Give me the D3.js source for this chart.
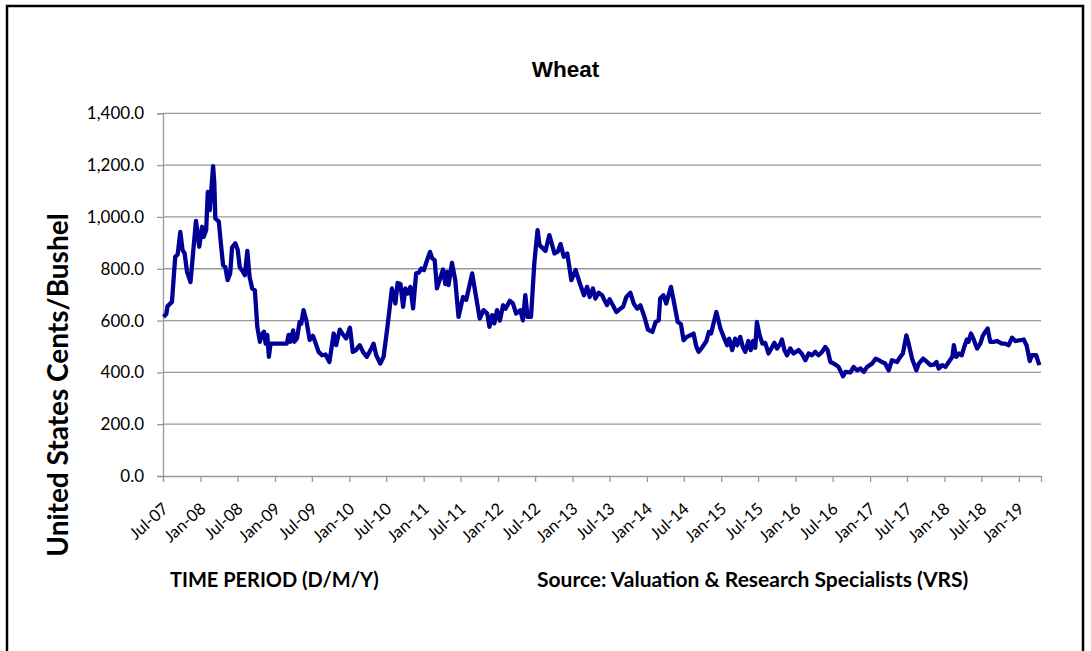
<!DOCTYPE html>
<html>
<head>
<meta charset="utf-8">
<script src="https://cdn.jsdelivr.net/npm/d3@7"></script>
<style>
  body { margin: 0; background: #fff; }
  svg text { font-family: Lato, "Open Sans", sans-serif; fill: #000; }
</style>
</head>
<body>
<div id="chart"></div>
<script>
// weekly wheat price, cents per bushel
const dates = [
  "2007-07-04","2007-07-17","2007-07-23","2007-08-14","2007-08-30","2007-09-11","2007-09-24","2007-10-05",
  "2007-10-15","2007-10-27","2007-11-13","2007-11-24","2007-12-10","2007-12-26","2008-01-09","2008-01-17",
  "2008-01-29","2008-02-06","2008-02-16","2008-02-22","2008-03-03","2008-03-09","2008-03-14","2008-03-31",
  "2008-04-11","2008-04-21","2008-05-02","2008-05-13","2008-05-26","2008-06-04","2008-06-20","2008-07-02",
  "2008-07-12","2008-07-28","2008-08-06","2008-08-18","2008-08-29","2008-09-11","2008-09-24","2008-10-06",
  "2008-10-19","2008-10-27","2008-11-08","2008-11-16","2008-11-24","2008-12-02","2008-12-10","2009-02-28",
  "2009-03-09","2009-03-17","2009-03-31","2009-04-06","2009-04-19","2009-05-02","2009-05-10","2009-05-21",
  "2009-06-04","2009-06-20","2009-07-06","2009-07-17","2009-08-03","2009-08-20","2009-09-06","2009-09-25",
  "2009-10-16","2009-10-28","2009-11-15","2009-11-27","2009-12-16","2010-01-04","2010-01-18","2010-02-01",
  "2010-02-21","2010-03-09","2010-03-28","2010-04-19","2010-04-30","2010-05-13","2010-06-02","2010-06-18",
  "2010-07-08","2010-07-29","2010-08-15","2010-08-26","2010-09-09","2010-09-22","2010-10-03","2010-10-14",
  "2010-10-28","2010-11-10","2010-11-25","2010-12-08","2010-12-20","2011-01-02","2011-01-15","2011-02-01",
  "2011-02-12","2011-02-24","2011-03-07","2011-03-20","2011-04-06","2011-04-17","2011-04-26","2011-05-03",
  "2011-05-20","2011-06-05","2011-06-21","2011-07-13","2011-07-29","2011-08-27","2011-09-07","2011-10-03",
  "2011-10-22","2011-11-09","2011-11-20","2011-12-03","2011-12-14","2011-12-27","2012-01-10","2012-01-26",
  "2012-02-07","2012-02-28","2012-03-14","2012-03-30","2012-04-20","2012-05-02","2012-05-14","2012-05-25",
  "2012-06-11","2012-06-27","2012-07-13","2012-07-23","2012-08-21","2012-09-09","2012-09-23","2012-10-04",
  "2012-10-20","2012-11-03","2012-11-19","2012-12-06","2012-12-26","2013-01-16","2013-02-06","2013-02-26",
  "2013-03-13","2013-03-26","2013-04-11","2013-04-23","2013-05-09","2013-05-26","2013-06-06","2013-06-19",
  "2013-07-02","2013-07-18","2013-08-04","2013-08-24","2013-09-06","2013-09-22","2013-10-12","2013-10-28",
  "2013-11-14","2013-11-30","2013-12-20","2014-01-06","2014-01-28","2014-02-13","2014-02-28","2014-03-07",
  "2014-03-23","2014-04-06","2014-04-29","2014-05-15","2014-06-01","2014-06-17","2014-06-30","2014-07-16",
  "2014-08-02","2014-08-18","2014-09-01","2014-09-12","2014-09-29","2014-10-20","2014-11-01","2014-11-12",
  "2014-12-08","2014-12-28","2015-01-13","2015-01-30","2015-02-09","2015-02-24","2015-03-10","2015-03-21",
  "2015-04-04","2015-04-17","2015-04-29","2015-05-14","2015-05-26","2015-06-06","2015-06-17","2015-06-25",
  "2015-07-08","2015-07-22","2015-08-05","2015-08-21","2015-09-08","2015-09-19","2015-10-02","2015-10-18",
  "2015-10-26","2015-11-07","2015-11-20","2015-12-06","2015-12-22","2016-01-16","2016-02-02","2016-02-18",
  "2016-03-05","2016-03-21","2016-04-07","2016-04-23","2016-05-10","2016-05-26","2016-06-06","2016-06-20",
  "2016-07-06","2016-07-19","2016-07-30","2016-08-21","2016-09-02","2016-09-26","2016-10-12","2016-10-29",
  "2016-11-15","2016-12-01","2016-12-17","2016-12-30","2017-01-11","2017-01-28","2017-02-13","2017-02-28",
  "2017-03-16","2017-04-02","2017-04-18","2017-05-13","2017-05-29","2017-06-11","2017-06-28","2017-07-09",
  "2017-07-26","2017-08-16","2017-08-28","2017-09-18","2017-10-08","2017-10-24","2017-11-10","2017-11-23",
  "2017-12-04","2017-12-21","2018-01-06","2018-01-22","2018-02-09","2018-02-16","2018-02-28","2018-03-15",
  "2018-03-27","2018-04-08","2018-04-21","2018-04-29","2018-05-11","2018-05-23","2018-06-10","2018-06-26",
  "2018-07-09","2018-07-20","2018-08-01","2018-08-14","2018-08-30","2018-09-16","2018-10-10","2018-10-26",
  "2018-11-12","2018-11-29","2018-12-15","2019-01-09","2019-01-25","2019-02-08","2019-02-24","2019-03-06",
  "2019-03-27","2019-04-12"
];
const cents = [
  614,625,655,672,846,855,942,872,
  860,788,749,846,985,885,962,923,
  949,1097,1026,1090,1196,1129,994,982,
  891,814,806,756,782,882,898,872,
  806,788,775,869,769,724,717,576,
  518,545,557,511,545,460,511,511,
  545,518,562,518,532,595,588,640,
  600,525,541,518,479,466,469,440,
  550,505,565,550,531,572,479,485,
  505,479,460,492,511,466,434,460,
  582,724,666,745,741,653,724,704,
  730,647,782,785,801,795,827,865,
  840,833,724,756,797,741,788,737,
  823,756,614,691,680,782,730,608,
  640,627,576,621,589,640,600,659,
  646,676,666,627,640,601,698,614,
  614,820,949,891,869,930,891,859,
  866,895,846,859,756,795,743,698,
  730,691,724,685,707,698,679,660,
  682,659,633,646,653,691,707,666,
  646,659,614,565,556,595,601,685,
  698,666,730,666,595,586,524,537,
  543,550,498,479,496,521,556,550,
  633,569,537,505,530,486,530,505,
  537,498,479,521,486,521,495,595,
  545,511,514,473,498,514,492,511,
  527,486,466,492,473,486,470,447,
  473,466,479,466,479,498,486,440,
  434,428,421,385,402,400,421,408,
  415,402,421,428,434,453,447,440,
  434,408,447,440,460,473,543,511,
  453,408,434,453,440,428,430,440,
  415,428,421,440,460,505,460,473,
  466,498,527,518,550,530,492,511,
  543,556,569,518,518,521,511,511,
  505,534,521,524,527,505,444,466,
  466,428
];
const yTicks = [0, 200, 400, 600, 800, 1000, 1200, 1400];
const axisStart = "2007-07-01", axisEnd = "2019-04-20";

const W = 1091, H = 651;
const plot = {left: 163, right: 1041, top: 113.3, bottom: 476};

const parse = d3.timeParse("%Y-%m-%d");
const series = dates.map((d, i) => ({date: parse(d), value: cents[i]}));

const svg = d3.select("#chart").append("svg")
  .attr("width", W).attr("height", H);

// outer frame
svg.append("rect")
  .attr("x", 7).attr("y", 6).attr("width", 1076).attr("height", 700)
  .attr("fill", "none").attr("stroke", "#000").attr("stroke-width", 2.5);

const x = d3.scaleTime()
  .domain([parse(axisStart), parse(axisEnd)])
  .range([plot.left, plot.right]);
const y = d3.scaleLinear()
  .domain([0, 1400])
  .range([plot.bottom, plot.top]);

// gridlines
svg.append("g").selectAll("line")
  .data(yTicks.filter(t => t > 0))
  .enter().append("line")
    .attr("x1", plot.left).attr("x2", plot.right)
    .attr("y1", d => y(d)).attr("y2", d => y(d))
    .attr("stroke", "#999").attr("stroke-width", 1.3);

// y axis
const yAxis = svg.append("g")
  .attr("transform", "translate(" + plot.left + ",0)")
  .call(d3.axisLeft(y).tickValues(yTicks).tickFormat(d3.format(",.1f")).tickSize(6).tickPadding(13));
yAxis.selectAll("line, path").attr("stroke", "#999").attr("stroke-width", 1.3);
yAxis.selectAll("text").style("font-size", "17px");

// x axis: half-year ticks
const xTicks = d3.timeMonth.every(6).range(parse(axisStart), parse(axisEnd));
const xAxis = svg.append("g")
  .attr("transform", "translate(0," + plot.bottom + ")")
  .call(d3.axisBottom(x).tickValues(xTicks).tickFormat(d3.timeFormat("%b-%y")).tickSize(6));
xAxis.selectAll("line, path").attr("stroke", "#999").attr("stroke-width", 1.3);
xAxis.selectAll("text")
  .style("font-size", "16.5px")
  .style("text-anchor", "end")
  .attr("x", 0).attr("y", 0)
  .attr("dy", "0.35em")
  .attr("transform", "translate(2,30) rotate(-42)");

// the price line
const line = d3.line()
  .x(d => x(d.date))
  .y(d => y(d.value));
svg.append("path")
  .datum(series)
  .attr("d", line)
  .attr("fill", "none")
  .attr("stroke", "#000096")
  .attr("stroke-width", 4.3)
  .attr("stroke-linejoin", "round");

// titles
svg.append("text")
  .attr("x", 565.5).attr("y", 77)
  .attr("text-anchor", "middle")
  .style("font-family", "'Liberation Sans', Arial, sans-serif")
  .style("font-size", "22.5px").style("font-weight", "bold")
  .text("Wheat");

svg.append("text")
  .attr("transform", "translate(68,385) rotate(-90)")
  .attr("text-anchor", "middle")
  .style("font-size", "28px").style("font-weight", "bold")
  .text("United States Cents/Bushel");

svg.append("text")
  .attr("x", 170).attr("y", 587)
  .style("font-size", "20px").style("font-weight", "bold")
  .text("TIME PERIOD (D/M/Y)");

svg.append("text")
  .attr("x", 537).attr("y", 587)
  .style("font-size", "21px").style("font-weight", "bold")
  .text("Source: Valuation & Research Specialists (VRS)");
</script>
</body>
</html>
